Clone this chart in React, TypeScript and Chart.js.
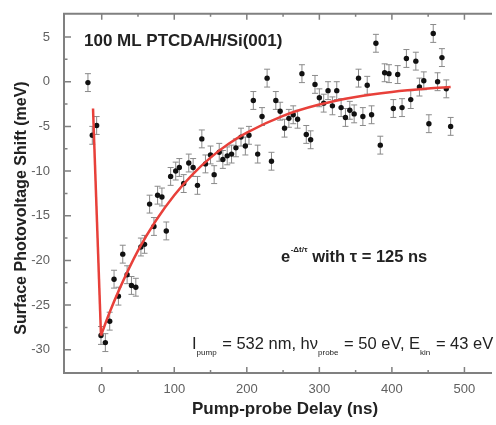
import React, { useEffect, useRef } from "react";
import { Chart, registerables } from "chart.js";

Chart.register(...registerables);

// Measured delays (ns) and surface photovoltage shifts (meV)
const DELAY_NS = [-19,-13,-7,-1,5,11,17,23,29,35,41,47,54,59,66,72,77,83,89,95,102,107,113,120,126,132,138,143,150,155,162,167,173,179,185,192,198,203,209,215,221,228,234,240,246,252,258,264,270,276,282,288,294,300,306,312,318,324,330,336,342,348,354,360,366,372,378,384,390,396,402,408,414,420,426,433,438,444,451,457,463,469,475,481];
const SPV_MEV = [-0.1,-6.0,-4.9,-28.4,-29.2,-26.8,-22.1,-24.0,-19.3,-21.6,-22.8,-23.0,-18.5,-18.2,-13.7,-16.2,-12.7,-12.9,-16.7,-10.6,-10.0,-9.6,-11.4,-9.1,-9.6,-11.6,-6.4,-9.2,-8.2,-10.4,-7.9,-8.7,-8.3,-8.1,-7.4,-6.2,-7.2,-6.0,-2.1,-8.1,-3.9,0.4,-8.9,-2.1,-3.3,-5.2,-4.1,-3.7,-4.2,0.9,-5.9,-6.5,-0.3,-1.8,-2.4,-1.0,-2.7,-1.0,-2.9,-4.0,-3.2,-3.6,0.4,-3.9,-0.4,-3.7,4.3,-7.1,1.0,0.9,-3.0,0.8,-2.9,2.6,-2.0,2.3,-0.6,0.1,-4.7,5.4,0.0,2.7,-0.8,-5.0];
const SPV_ERR = 1.0; // symmetric error bar half-height (meV)

// Fit curve: sharp drop then exponential recovery
const DROP_T = [-12, -1];
const DROP_V = [-3.0, -28.4];
const FIT_T = [-1, 10, 25, 50, 75, 100, 125, 150, 175, 200, 250, 300, 350, 400, 450, 481];
const FIT_V = [-28.4, -26.0, -23.1, -18.9, -15.5, -12.7, -10.4, -8.5, -6.95, -5.7, -3.82, -2.56, -1.71, -1.15, -0.77, -0.6];

// Axis ticks
const X_TICKS = [0, 100, 200, 300, 400, 500];
const X_MINOR = [50, 150, 250, 350, 450];
const Y_TICKS = [-30, -25, -20, -15, -10, -5, 0, 5];
const Y_MINOR = [-27.5, -22.5, -17.5, -12.5, -7.5, -2.5, 2.5];

const FONT = '"Liberation Sans", Arial, sans-serif';
const FRAME = "#808080";

const decorPlugin = {
  id: "decor",
  beforeDatasetsDraw(chart: any) {
    const ctx = chart.ctx;
    const xs = chart.scales.x;
    const ys = chart.scales.y;
    ctx.save();
    ctx.strokeStyle = "#8a8a8a";
    ctx.lineWidth = 1;
    for (let i = 0; i < DELAY_NS.length; i++) {
      const px = xs.getPixelForValue(DELAY_NS[i]);
      const pt = ys.getPixelForValue(SPV_MEV[i] + SPV_ERR);
      const pb = ys.getPixelForValue(SPV_MEV[i] - SPV_ERR);
      ctx.beginPath();
      ctx.moveTo(px, pt); ctx.lineTo(px, pb);
      ctx.moveTo(px - 3, pt); ctx.lineTo(px + 3, pt);
      ctx.moveTo(px - 3, pb); ctx.lineTo(px + 3, pb);
      ctx.stroke();
    }
    ctx.restore();
  },
  afterDraw(chart: any) {
    const ctx = chart.ctx;
    const a = chart.chartArea;
    const xs = chart.scales.x;
    const ys = chart.scales.y;
    ctx.save();
    // frame
    ctx.strokeStyle = FRAME;
    ctx.lineWidth = 2;
    ctx.beginPath();
    ctx.moveTo(a.right, a.top); ctx.lineTo(a.left, a.top); ctx.lineTo(a.left, a.bottom); ctx.lineTo(a.right, a.bottom);
    ctx.stroke();
    // inward ticks
    ctx.lineWidth = 1.5;
    ctx.beginPath();
    const xt = (v: number, len: number) => {
      const p = xs.getPixelForValue(v);
      ctx.moveTo(p, a.bottom); ctx.lineTo(p, a.bottom - len);
      ctx.moveTo(p, a.top); ctx.lineTo(p, a.top + len);
    };
    X_TICKS.forEach((v) => xt(v, 6));
    X_MINOR.forEach((v) => xt(v, 3));
    const yt = (v: number, len: number) => {
      const p = ys.getPixelForValue(v);
      ctx.moveTo(a.left, p); ctx.lineTo(a.left + len, p);
    };
    Y_TICKS.forEach((v) => yt(v, 7));
    Y_MINOR.forEach((v) => yt(v, 3.5));
    ctx.stroke();

    // axis titles
    ctx.fillStyle = "#222";
    ctx.textAlign = "center";
    ctx.textBaseline = "middle";
    ctx.font = `bold 17px ${FONT}`;
    ctx.fillText("Pump-probe Delay (ns)", 285, 409);
    ctx.font = `bold 16px ${FONT}`;
    ctx.save();
    ctx.translate(22, 208);
    ctx.rotate(-Math.PI / 2);
    ctx.fillText("Surface Photovoltage Shift (meV)", 0, 0);
    ctx.restore();

    // sample label
    ctx.textAlign = "left";
    ctx.font = `bold 17px ${FONT}`;
    ctx.fillText("100 ML PTCDA/H/Si(001)", 84, 41);

    // fit label
    ctx.textBaseline = "alphabetic";
    let x = 281;
    const by = 262;
    ctx.font = `bold 16.5px ${FONT}`;
    ctx.fillText("e", x, by);
    x += ctx.measureText("e").width + 0.5;
    ctx.font = `bold 8px ${FONT}`;
    ctx.fillText("-\u0394t/\u03c4", x, by - 10);
    x += ctx.measureText("-\u0394t/\u03c4").width;
    ctx.font = `bold 16.5px ${FONT}`;
    ctx.fillText(" with \u03c4 = 125 ns", x, by);

    // experiment parameters
    const parts: [string, boolean][] = [
      ["I", false], ["pump", true], [" = 532 nm, h\u03bd", false], ["probe", true],
      [" = 50 eV, E", false], ["kin", true], [" = 43 eV", false],
    ];
    let px = 192;
    const pb = 349;
    for (const [t, sub] of parts) {
      ctx.font = sub ? `8px ${FONT}` : `16.5px ${FONT}`;
      ctx.fillText(t, px, sub ? pb + 6 : pb);
      px += ctx.measureText(t).width + (sub ? 1 : 0);
    }
    ctx.restore();
  },
};

export default function App() {
  const ref = useRef<HTMLCanvasElement | null>(null);
  useEffect(() => {
    if (!ref.current) return;
    const chart = new Chart(ref.current, {
      type: "scatter",
      data: {
        datasets: [
          {
            type: "line",
            data: FIT_T.map((t, i) => ({ x: t, y: FIT_V[i] })),
            borderColor: "#e8403a",
            borderWidth: 2.5,
            pointRadius: 0,
            cubicInterpolationMode: "monotone",
            fill: false,
            order: 0,
          } as any,
          {
            type: "line",
            data: DROP_T.map((t, i) => ({ x: t, y: DROP_V[i] })),
            borderColor: "#e8403a",
            borderWidth: 2.5,
            pointRadius: 0,
            tension: 0,
            fill: false,
            order: 0,
          } as any,
          {
            type: "scatter",
            data: DELAY_NS.map((t, i) => ({ x: t, y: SPV_MEV[i] })),
            backgroundColor: "#111",
            borderColor: "#111",
            borderWidth: 0,
            pointRadius: 2.7,
            order: 1,
          },
        ],
      },
      options: {
        animation: false,
        responsive: false,
        layout: { padding: { top: 13, left: 0, right: 0, bottom: 0 } },
        plugins: { legend: { display: false }, tooltip: { enabled: false } },
        scales: {
          x: {
            type: "linear",
            min: -52,
            max: 538,
            grid: { display: false },
            border: { display: false },
            afterBuildTicks: (s: any) => { s.ticks = X_TICKS.map((v) => ({ value: v })); },
            afterFit: (s: any) => { s.height = 52; },
            ticks: { color: "#606060", font: { size: 13, family: FONT }, padding: 1 },
          },
          y: {
            type: "linear",
            min: -32.6,
            max: 7.6,
            grid: { display: false },
            border: { display: false },
            afterBuildTicks: (s: any) => { s.ticks = Y_TICKS.map((v) => ({ value: v })); },
            afterFit: (s: any) => { s.width = 64; },
            ticks: { color: "#606060", font: { size: 13, family: FONT }, padding: 6 },
          },
        },
      },
      plugins: [decorPlugin],
    });
    return () => chart.destroy();
  }, []);
  return (
    <div style={{ position: "fixed", left: 0, top: 0, width: 496, height: 425, background: "#fff" }}>
      <canvas ref={ref} width={496} height={425} />
    </div>
  );
}
